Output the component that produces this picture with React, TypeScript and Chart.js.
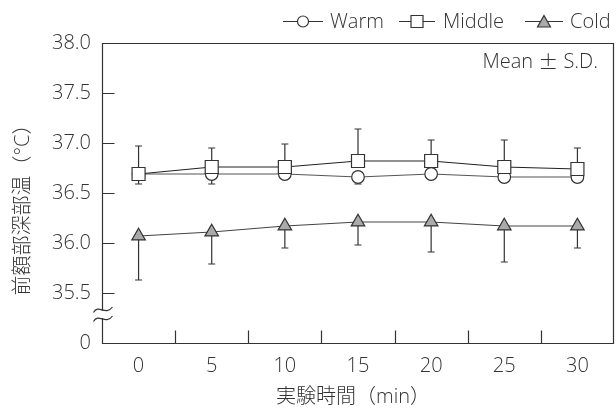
import React, { useEffect, useRef } from "react";
import { Chart, registerables } from "chart.js";

Chart.register(...registerables);

// ---- data ----
const times = ["0", "5", "10", "15", "20", "25", "30"];
const warmMean = [36.69, 36.69, 36.69, 36.66, 36.69, 36.66, 36.66];
const warmSD = [0.1, 0.1, 0.05, 0.07, 0.04, 0.05, 0.05];
const middleMean = [36.69, 36.76, 36.76, 36.82, 36.82, 36.76, 36.74];
const middleSD = [0.28, 0.19, 0.23, 0.32, 0.21, 0.27, 0.21];
const coldMean = [36.07, 36.11, 36.17, 36.21, 36.21, 36.17, 36.17];
const coldSD = [0.44, 0.32, 0.22, 0.23, 0.3, 0.36, 0.22];
const yTickValues = [35.5, 36.0, 36.5, 37.0, 37.5];
const legendLabels = ["Warm", "Middle", "Cold"];
const xTitle = "実験時間（min）";
const yTitle = "前額部深部温（°C）";
const noteParts = ["Mean ", "\u00b1", " S.D."];

const FONT = "'Open Sans', 'Noto Sans CJK JP', sans-serif";
const CJK_FONT = "'Noto Sans CJK JP', sans-serif";
const FONT_SIZE = 20;
const TEXT = "#333333";
const LINE = "#333333";

const errorSets = [
  { mean: warmMean, sd: warmSD, dir: -1 },
  { mean: middleMean, sd: middleSD, dir: 1 },
  { mean: coldMean, sd: coldSD, dir: -1 },
];

const errorBarPlugin = {
  id: "errorBars",
  beforeDatasetsDraw(chart: any) {
    const { ctx, scales } = chart;
    const xs = scales.x;
    const ys = scales.y;
    ctx.save();
    ctx.strokeStyle = LINE;
    ctx.lineWidth = 1.2;
    errorSets.forEach((s) => {
      s.mean.forEach((m, i) => {
        const x = xs.getPixelForValue(i);
        const y0 = ys.getPixelForValue(m);
        const y1 = ys.getPixelForValue(m + s.dir * s.sd[i]);
        ctx.beginPath();
        ctx.moveTo(x, y0);
        ctx.lineTo(x, y1);
        ctx.moveTo(x - 3.5, y1);
        ctx.lineTo(x + 3.5, y1);
        ctx.stroke();
      });
    });
    ctx.restore();
  },
};

const framePlugin = {
  id: "frame",
  afterDraw(chart: any) {
    const { ctx, chartArea, scales } = chart;
    const xs = scales.x;
    const ys = scales.y;
    const L = Math.round(chartArea.left) + 0.5;
    const R = Math.round(chartArea.right) - 0.5;
    const T = Math.round(chartArea.top) + 0.5;
    const B = Math.round(chartArea.bottom) + 0.5;
    ctx.save();
    ctx.strokeStyle = LINE;
    ctx.lineWidth = 1.2;
    ctx.beginPath();
    ctx.rect(L, T, R - L, B - T);
    yTickValues.forEach((v) => {
      const y = Math.round(ys.getPixelForValue(v)) + 0.5;
      ctx.moveTo(L, y);
      ctx.lineTo(L + 12, y);
    });
    for (let i = 0; i < times.length - 1; i++) {
      const x = Math.round((xs.getPixelForValue(i) + xs.getPixelForValue(i + 1)) / 2) + 0.5;
      ctx.moveTo(x, B);
      ctx.lineTo(x, B - 13);
    }
    ctx.stroke();

    // axis break
    const yb1 = ys.getPixelForValue(35.33);
    const yb2 = ys.getPixelForValue(35.24);
    ctx.fillStyle = "#ffffff";
    ctx.fillRect(L - 3, yb1 + 1, 6, yb2 - yb1 - 2);
    ctx.beginPath();
    [yb1, yb2].forEach((y) => {
      const x0 = L - 9;
      ctx.moveTo(x0, y + 2.5);
      ctx.bezierCurveTo(x0 + 5, y - 6.5, x0 + 12, y + 6.5, x0 + 19, y - 3);
    });
    ctx.stroke();

    const fontStr = `300 ${FONT_SIZE}px ${FONT}`;
    const cjkStr = `300 ${FONT_SIZE}px ${CJK_FONT}`;
    ctx.fillStyle = TEXT;
    ctx.textBaseline = "middle";

    // Mean ± S.D. (right edge at 598)
    ctx.textAlign = "left";
    const fonts = [fontStr, cjkStr, fontStr];
    const widths = noteParts.map((p, i) => {
      ctx.font = fonts[i];
      return ctx.measureText(p).width;
    });
    let nx = 598 - widths.reduce((a, b) => a + b, 0);
    noteParts.forEach((p, i) => {
      ctx.font = fonts[i];
      ctx.fillText(p, nx, 62);
      nx += widths[i];
    });

    // axis titles
    ctx.font = fontStr;
    ctx.textAlign = "center";
    ctx.fillText(xTitle, 353, 397);
    ctx.save();
    ctx.translate(23, 205);
    ctx.rotate(-Math.PI / 2);
    ctx.fillText(yTitle, 0, 0);
    ctx.restore();

    // legend
    const ly = 21;
    ctx.textAlign = "left";
    const items = [
      { x0: 283, x1: 323, cx: 303, tx: 330, kind: "circle" },
      { x0: 399, x1: 435, cx: 417, tx: 443, kind: "rect" },
      { x0: 525, x1: 563, cx: 544, tx: 570, kind: "tri" },
    ];
    items.forEach((it, k) => {
      ctx.strokeStyle = LINE;
      ctx.lineWidth = 1.2;
      ctx.beginPath();
      ctx.moveTo(it.x0, ly + 0.5);
      ctx.lineTo(it.x1, ly + 0.5);
      ctx.stroke();
      ctx.beginPath();
      if (it.kind === "circle") {
        ctx.arc(it.cx, ly + 0.5, 5.5, 0, Math.PI * 2);
        ctx.fillStyle = "#ffffff";
      } else if (it.kind === "rect") {
        ctx.rect(it.cx - 6, ly - 5.5, 12, 12);
        ctx.fillStyle = "#ffffff";
      } else {
        ctx.moveTo(it.cx, ly - 5.5);
        ctx.lineTo(it.cx + 6.5, ly + 6);
        ctx.lineTo(it.cx - 6.5, ly + 6);
        ctx.closePath();
        ctx.fillStyle = "#aaaaaa";
      }
      ctx.fill();
      ctx.stroke();
      ctx.fillStyle = TEXT;
      ctx.fillText(legendLabels[k], it.tx, ly + 1);
    });
    ctx.restore();
  },
};

export default function App() {
  const ref = useRef<HTMLCanvasElement>(null);
  useEffect(() => {
    const font = { family: FONT, size: FONT_SIZE, weight: "300" as any };
    const chart = new Chart(ref.current as HTMLCanvasElement, {
      type: "line",
      data: {
        labels: times,
        datasets: [
          {
            label: legendLabels[0],
            data: warmMean,
            borderColor: "#555555",
            borderWidth: 1.2,
            pointStyle: "circle",
            pointRadius: 6.3,
            pointBackgroundColor: "#ffffff",
            pointBorderColor: LINE,
            pointBorderWidth: 1.2,
            order: 2,
          },
          {
            label: legendLabels[1],
            data: middleMean,
            borderColor: "#222222",
            borderWidth: 1.2,
            pointStyle: "rect",
            pointRadius: 9.2,
            pointBackgroundColor: "#ffffff",
            pointBorderColor: LINE,
            pointBorderWidth: 1.2,
            order: 1,
          },
          {
            label: legendLabels[2],
            data: coldMean,
            borderColor: "#444444",
            borderWidth: 1.2,
            pointStyle: "triangle",
            pointRadius: 7.8,
            pointBackgroundColor: "#aaaaaa",
            pointBorderColor: LINE,
            pointBorderWidth: 1.2,
            order: 3,
          },
        ],
      },
      options: {
        responsive: false,
        animation: false,
        layout: { autoPadding: false, padding: { top: 43, left: 4, right: 2, bottom: 0 } },
        plugins: {
          legend: { display: false },
          tooltip: { enabled: false },
        },
        scales: {
          x: {
            type: "category",
            offset: true,
            afterFit: (s: any) => {
              s.height = 65;
              s.paddingLeft = 0;
              s.paddingRight = 0;
            },
            grid: { display: false, drawTicks: false },
            border: { display: false },
            ticks: { padding: 11, color: TEXT, font },
            title: { display: false },
          },
          y: {
            type: "linear",
            min: 35,
            max: 38,
            afterFit: (s: any) => {
              s.width = 98;
            },
            grid: { display: false, drawTicks: false },
            border: { display: false },
            ticks: {
              stepSize: 0.5,
              padding: 11,
              color: TEXT,
              font,
              callback: (v: any) => (Number(v) === 35 ? "0" : Number(v).toFixed(1)),
            },
            title: { display: false },
          },
        },
      },
      plugins: [errorBarPlugin, framePlugin],
    });
    return () => chart.destroy();
  }, []);
  return (
    <div style={{ position: "fixed", left: 0, top: 0, width: 616, height: 408, background: "#fff" }}>
      <canvas ref={ref} width={616} height={408} style={{ width: 616, height: 408, display: "block" }} />
    </div>
  );
}
